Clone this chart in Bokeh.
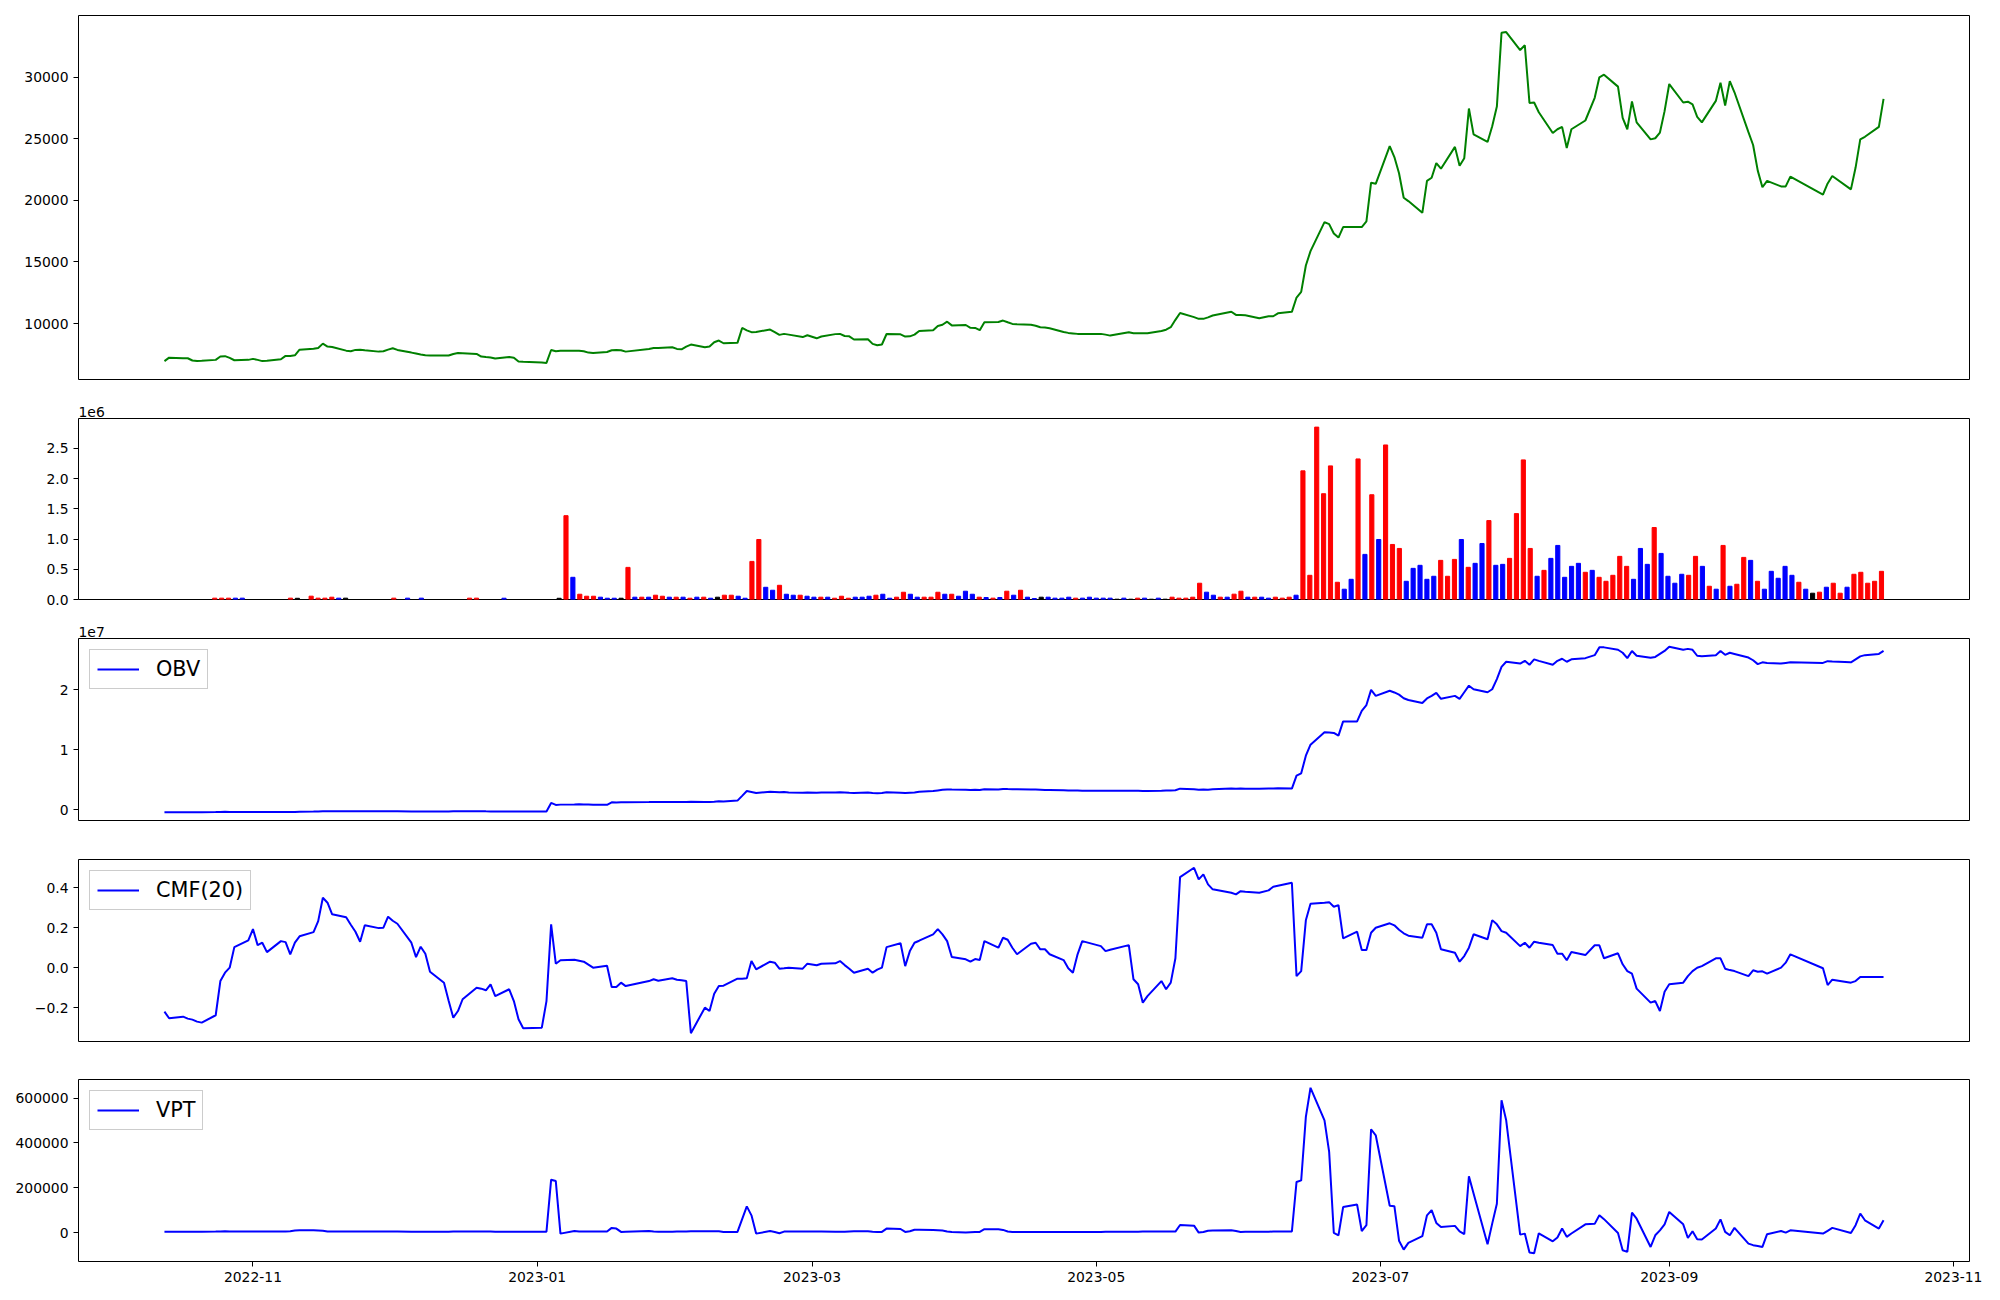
import pandas as pd
from bokeh.plotting import figure
from bokeh.layouts import column
from bokeh.models import (Range1d, FixedTicker, CustomJSTickFormatter, DatetimeTickFormatter,
                          ColumnDataSource, Title)
from bokeh.embed import file_html
from bokeh.resources import INLINE

FONT = "DejaVu Sans"
TICK_FS = "13.9px"
LEG_FS = "20.8px"

# ---------------- data ----------------
first_day, last_day = "2022-10-13", "2023-10-17"
market_holidays = ["2022-12-30", "2023-01-23", "2023-01-24", "2023-03-01", "2023-05-01",
                   "2023-05-05", "2023-05-29", "2023-06-06", "2023-08-15", "2023-09-28",
                   "2023-09-29", "2023-10-02", "2023-10-03", "2023-10-09"]
dates = [d for d in pd.bdate_range(first_day, last_day) if d.strftime("%Y-%m-%d") not in market_holidays]

close = [6950, 7230, 7180, 7180, 7000, 6950, 6970, 7050, 7320, 7350,
         7210, 7020, 7050, 7130, 7050, 6950, 6970, 7100, 7370, 7370,
         7420, 7880, 7960, 8020, 8370, 8130, 8100, 7800, 7750, 7860,
         7880, 7830, 7720, 7750, 7880, 7990, 7860, 7640, 7560, 7480,
         7420, 7400, 7400, 7400, 7530, 7610, 7590, 7530, 7320, 7280,
         7250, 7160, 7280, 7230, 6910, 6890, 6830, 6800, 7850, 7750,
         7800, 7800, 7800, 7750, 7640, 7610, 7690, 7830, 7860, 7830,
         7720, 7940, 8020, 8020, 8070, 7940, 7910, 8130, 8290, 8070,
         8130, 8480, 8620, 8400, 8430, 9640, 9450, 9300, 9320, 9510,
         9300, 9080, 9160, 9100, 8900, 9050, 8800, 8950, 9140, 9160,
         8990, 8960, 8700, 8720, 8350, 8240, 8300, 9150, 9120, 8940,
         8960, 9100, 9400, 9450, 9800, 9900, 10150, 9850, 9880, 9650,
         9640, 9460, 10110, 10130, 10240, 10100, 9970, 9950, 9900, 9820,
         9700, 9680, 9620, 9320, 9240, 9200, 9160, 9160, 9160, 9100,
         9020, 9300, 9210, 9210, 9210, 9210, 9400, 9500, 9700, 10300,
         10860, 10520, 10380, 10380, 10500, 10650, 10960, 10700, 10690, 10680,
         10430, 10590, 10590, 10830, 10950, 12110, 12570, 14710, 15880, 18230,
         18070, 17310, 16980, 17830, 17830, 17830, 18285, 21430, 21340, 24400,
         23510, 22200, 20210, 19940, 18990, 21580, 21830, 23020, 22570, 24340,
         22810, 23420, 27450, 25350, 24740, 26020, 27610, 33600, 33660, 32200,
         32590, 27910, 27940, 27150, 25470, 25770, 25960, 24250, 25770, 26480,
         28320, 29990, 30200, 29230, 26690, 25770, 28030, 26330, 24950, 25040,
         25500, 27240, 29440, 27940, 28010, 27790, 26780, 26330, 28070, 29540,
         27700, 29680, 28770, 25530, 24490, 22410, 21060, 21580, 21130, 21130,
         21930, 20460, 21370, 21980, 20890, 22660, 24950, 25160, 25960, 28230]

volume = [0, 0, 0, 0, 0, 0, 0, 22000, 22000, 22000,
          22000, 22000, 0, 0, 0, 0, 0, 0, 22000, 20000,
          0, 55000, 22000, 22000, 38000, 22000, 22000, 0, 0, 0,
          0, 0, 0, 22000, 0, 22000, 0, 22000, 0, 0,
          0, 0, 0, 0, 22000, 22000, 0, 0, 0, 21000,
          0, 0, 0, 0, 0, 0, 0, 20000, 1386000, 367000,
          87000, 54000, 54000, 38000, 21000, 21000, 21000, 531000, 38000, 38000,
          38000, 71000, 54000, 38000, 38000, 38000, 21000, 38000, 38000, 21000,
          38000, 71000, 71000, 54000, 21000, 630000, 992000, 202000, 153000, 235000,
          87000, 71000, 71000, 54000, 38000, 38000, 38000, 21000, 54000, 21000,
          38000, 38000, 54000, 71000, 87000, 21000, 38000, 120000, 87000, 38000,
          38000, 38000, 120000, 87000, 87000, 54000, 137000, 87000, 38000, 33000,
          22000, 33000, 137000, 71000, 153000, 38000, 16000, 38000, 38000, 22000,
          22000, 38000, 22000, 22000, 38000, 22000, 22000, 22000, 5000, 22000,
          5000, 22000, 22000, 5000, 22000, 5000, 38000, 22000, 22000, 38000,
          269000, 121000, 71000, 38000, 38000, 88000, 137000, 38000, 38000, 38000,
          22000, 38000, 22000, 38000, 71000, 2127000, 400000, 2850000, 1749000, 2209000,
          285000, 170000, 334000, 2324000, 746000, 1732000, 992000, 2555000, 910000, 844000,
          301000, 515000, 565000, 334000, 384000, 647000, 384000, 663000, 992000, 532000,
          598000, 926000, 1305000, 565000, 581000, 680000, 1420000, 2308000, 844000, 384000,
          482000, 680000, 894000, 367000, 548000, 598000, 450000, 482000, 367000, 301000,
          400000, 713000, 548000, 334000, 844000, 581000, 1190000, 762000, 384000, 269000,
          417000, 400000, 713000, 548000, 219000, 170000, 894000, 219000, 252000, 696000,
          647000, 301000, 170000, 466000, 351000, 548000, 400000, 285000, 170000, 104000,
          121000, 203000, 269000, 104000, 203000, 417000, 450000, 269000, 301000, 466000]

# r = up day, b = down day, k = unchanged
volume_dir = ("kkkkkkkrrr" "bbkkkkkkrk" "krrrrbkkkk" "kkkrkbkbkk" "kkkkrrkkkb"
              "kkkkkkkkrb" "rrrbbbkrbr" "brrbrbrbrb" "krrbbrrbbr" "bbrbbrbrrr"
              "bbbrbbrrbb" "rrrbrbbbrb" "rbrbrbbkbb" "bbrbbbbbkb" "krbkbkrrrr"
              "rbbrbrrbrb" "brrrbrrrrr" "rbbrbrbrrr" "bbbbbrrrbr" "bbrbbrrrrb"
              "rbbbbbrbrr" "rrrbbbrbbb" "brrbrbrbrr" "brbbbbbrbk" "rbrrbrrrrr")

obv = [-0.44e6, -0.44e6, -0.44e6, -0.44e6, -0.44e6, -0.44e6, -0.44e6, -0.42e6, -0.40e6, -0.38e6,
       -0.40e6, -0.42e6, -0.42e6, -0.42e6, -0.42e6, -0.42e6, -0.42e6, -0.42e6, -0.40e6, -0.40e6,
       -0.40e6, -0.35e6, -0.33e6, -0.31e6, -0.27e6, -0.29e6, -0.29e6, -0.29e6, -0.29e6, -0.29e6,
       -0.29e6, -0.29e6, -0.29e6, -0.27e6, -0.27e6, -0.29e6, -0.29e6, -0.31e6, -0.31e6, -0.31e6,
       -0.31e6, -0.31e6, -0.31e6, -0.31e6, -0.29e6, -0.27e6, -0.27e6, -0.27e6, -0.27e6, -0.29e6,
       -0.30e6, -0.31e6, -0.31e6, -0.32e6, -0.32e6, -0.33e6, -0.33e6, -0.33e6, 1.11e6, 0.78e6,
       0.83e6, 0.86e6, 0.89e6, 0.86e6, 0.84e6, 0.82e6, 0.80e6, 1.22e6, 1.20e6, 1.23e6,
       1.21e6, 1.25e6, 1.28e6, 1.26e6, 1.28e6, 1.26e6, 1.28e6, 1.26e6, 1.29e6, 1.28e6,
       1.28e6, 1.33e6, 1.40e6, 1.36e6, 1.50e6, 2.30e6, 3.11e6, 2.95e6, 2.78e6, 3.00e6,
       2.95e6, 2.88e6, 2.92e6, 2.86e6, 2.83e6, 2.86e6, 2.82e6, 2.84e6, 2.87e6, 2.89e6,
       2.85e6, 2.81e6, 2.78e6, 2.84e6, 2.76e6, 2.74e6, 2.78e6, 2.90e6, 2.82e6, 2.78e6,
       2.82e6, 2.86e6, 2.98e6, 3.10e6, 3.20e6, 3.30e6, 3.36e6, 3.34e6, 3.30e6, 3.27e6,
       3.31e6, 3.28e6, 3.40e6, 3.37e6, 3.45e6, 3.42e6, 3.40e6, 3.40e6, 3.37e6, 3.34e6,
       3.31e6, 3.27e6, 3.29e6, 3.24e6, 3.21e6, 3.19e6, 3.17e6, 3.15e6, 3.15e6, 3.13e6,
       3.13e6, 3.15e6, 3.13e6, 3.13e6, 3.11e6, 3.11e6, 3.15e6, 3.17e6, 3.19e6, 3.23e6,
       3.50e6, 3.39e6, 3.32e6, 3.36e6, 3.32e6, 3.41e6, 3.54e6, 3.50e6, 3.54e6, 3.50e6,
       3.48e6, 3.52e6, 3.54e6, 3.58e6, 3.51e6, 5.67e6, 6.06e6, 9.00e6, 10.84e6, 12.90e6,
       12.88e6, 12.80e6, 12.35e6, 14.73e6, 14.73e6, 16.50e6, 17.46e6, 20.00e6, 19.00e6, 19.85e6,
       19.57e6, 19.20e6, 18.60e6, 18.30e6, 17.80e6, 18.57e6, 19.00e6, 19.50e6, 18.50e6, 19.00e6,
       18.50e6, 19.60e6, 20.70e6, 20.10e6, 19.60e6, 20.10e6, 21.80e6, 23.85e6, 24.70e6, 24.40e6,
       24.85e6, 24.20e6, 25.10e6, 24.85e6, 24.20e6, 24.85e6, 25.20e6, 24.70e6, 25.10e6, 25.30e6,
       25.80e6, 27.10e6, 27.10e6, 26.70e6, 26.20e6, 25.30e6, 26.50e6, 25.70e6, 25.35e6, 25.50e6,
       26.00e6, 26.50e6, 27.20e6, 26.70e6, 26.85e6, 26.70e6, 25.70e6, 25.60e6, 25.80e6, 26.50e6,
       25.85e6, 26.20e6, 26.00e6, 25.40e6, 24.95e6, 24.30e6, 24.60e6, 24.50e6, 24.40e6, 24.50e6,
       24.60e6, 24.50e6, 24.80e6, 24.75e6, 24.60e6, 25.10e6, 25.60e6, 25.80e6, 26.00e6, 26.50e6]

cmf20 = [-0.22, -0.253, -0.245, -0.255, -0.26, -0.27, -0.275, -0.238, -0.067, -0.025,
         0.0, 0.103, 0.137, 0.193, 0.113, 0.125, 0.078, 0.133, 0.128, 0.067,
         0.125, 0.157, 0.178, 0.233, 0.35, 0.325, 0.267, 0.252, 0.215, 0.18,
         0.13, 0.212, 0.198, 0.2, 0.255, 0.235, 0.22, 0.125, 0.053, 0.105,
         0.07, -0.02, -0.075, -0.165, -0.25, -0.217, -0.158, -0.1, -0.105, -0.113,
         -0.083, -0.142, -0.108, -0.167, -0.258, -0.303, -0.3, -0.167, 0.217, 0.02,
         0.037, 0.04, 0.035, 0.03, 0.015, 0.0, 0.01, -0.097, -0.097, -0.075,
         -0.092, -0.067, -0.058, -0.065, -0.053, -0.06, -0.063, -0.067, -0.328, -0.2,
         -0.217, -0.13, -0.092, -0.09, -0.055, -0.055, -0.053, 0.033, -0.008, 0.03,
         0.025, -0.005, -0.003, 0.0, -0.005, 0.02, 0.012, 0.02, 0.022, 0.033,
         0.013, -0.005, -0.025, -0.005, -0.025, -0.01, 0.0, 0.103, 0.122, 0.008,
         0.083, 0.125, 0.135, 0.167, 0.193, 0.167, 0.133, 0.053, 0.042, 0.03,
         0.043, 0.038, 0.133, 0.1, 0.15, 0.14, 0.1, 0.067, 0.12, 0.125,
         0.092, 0.092, 0.067, 0.038, -0.003, -0.025, 0.067, 0.133, 0.108, 0.083,
         0.09, 0.113, -0.058, -0.083, -0.175, -0.142, -0.067, -0.108, -0.075, 0.047,
         0.453, 0.5, 0.442, 0.467, 0.417, 0.392, 0.375, 0.367, 0.383, 0.38,
         0.375, 0.387, 0.405, 0.41, 0.425, -0.042, -0.017, 0.237, 0.32, 0.325,
         0.328, 0.305, 0.313, 0.147, 0.18, 0.088, 0.088, 0.175, 0.2, 0.222,
         0.212, 0.19, 0.172, 0.16, 0.15, 0.217, 0.217, 0.175, 0.092, 0.075,
         0.03, 0.058, 0.1, 0.167, 0.142, 0.238, 0.217, 0.183, 0.175, 0.108,
         0.125, 0.1, 0.13, 0.125, 0.113, 0.07, 0.07, 0.037, 0.078, 0.063,
         0.112, 0.112, 0.047, 0.072, 0.017, -0.017, -0.03, -0.105, -0.175, -0.167,
         -0.217, -0.12, -0.083, -0.075, -0.042, -0.017, 0.0, 0.008, 0.047, 0.047,
         -0.005, -0.012, -0.017, -0.042, -0.013, -0.02, -0.018, -0.03, 0.0, 0.025,
         0.067, -0.003, -0.087, -0.06, -0.075, -0.067, -0.047, -0.047, -0.047, -0.047]

vpt = [4000, 4000, 4000, 4000, 4000, 4000, 4000, 4500, 5000, 5500,
       5000, 4500, 4500, 4500, 4500, 4500, 4500, 4500, 5000, 6000,
       9000, 10000, 10000, 9000, 8000, 5000, 4500, 4500, 4500, 4500,
       4500, 4500, 4500, 5000, 5000, 4500, 4500, 4000, 4000, 4000,
       4000, 4000, 4000, 4000, 4500, 5000, 5000, 5000, 4500, 4500,
       4500, 4000, 4000, 4000, 4000, 4000, 4000, 4000, 236000, 230000,
       -4500, 7000, 5000, 5000, 5000, 5000, 5000, 21000, 18000, 3000,
       4000, 7000, 5000, 4000, 4000, 5000, 5000, 4500, 6000, 6000,
       6000, 6500, 6000, 3000, 3000, 60000, 117000, 77000, -4500, 7000,
       3000, -3000, 4500, 5000, 5000, 5000, 5000, 5000, 4000, 4000,
       4000, 5000, 6000, 6000, 4000, 3000, 3000, 18000, 16000, 3000,
       6000, 13000, 13000, 12000, 11000, 9000, 5000, 3000, 1000, 2000,
       3000, 3000, 15000, 15000, 12000, 5000, 3000, 3000, 3000, 3000,
       3000, 3000, 3000, 3000, 3000, 3000, 3000, 3000, 3000, 3500,
       4000, 4000, 4000, 4000, 4500, 4500, 4500, 4500, 4500, 4500,
       34000, 31000, 0, 2500, 8000, 9000, 10000, 7000, 3000, 4000,
       4000, 4000, 4500, 4500, 5000, 226000, 233000, 516000, 646000, 501000,
       360000, -1500, -12000, 114000, 125000, 7000, 33000, 461000, 434000, 120000,
       118000, -36000, -76000, -46000, -16000, 77000, 100000, 43000, 25000, 30000,
       5000, -7000, 251000, 174000, -52000, 40000, 129000, 590000, 501000, -9000,
       -4500, -89000, -92000, -3000, -39000, -22000, 18000, -19000, -4000, 37000,
       39000, 77000, 60000, -1500, -79000, -86000, 89000, 62000, -64000, -12000,
       10000, 37000, 92000, 37000, -24000, 6000, -30000, -31000, 18000, 59000,
       3000, -12000, 21000, -49000, -56000, -60000, -64000, -7000, 7000, 0,
       10000, -4500, 8000, 21000, -1500, 33000, 85000, 55000, 18000, 55000]

month_ticks = ["2022-11-01", "2023-01-01", "2023-03-01", "2023-05-01", "2023-07-01",
               "2023-09-01", "2023-11-01"]

# ---------------- helpers ----------------
FRAME_W = 1891
LEFT = 78
DIR_COLORS = {"r": "red", "b": "blue", "k": "black"}


def padded(lo, hi, frac=0.05):
    span = hi - lo
    return lo - span * frac, hi + span * frac


span_t = dates[-1] - dates[0]
date_range = Range1d(start=(dates[0] - span_t * 0.05).to_pydatetime(),
                     end=(dates[-1] + span_t * 0.05).to_pydatetime())


def style(p, ticks, fmt_code):
    p.xgrid.visible = False
    p.ygrid.visible = False
    p.outline_line_color = "black"
    p.outline_line_width = 1
    p.outline_line_alpha = 1
    ax = p.yaxis[0]
    ax.ticker = FixedTicker(ticks=ticks)
    ax.formatter = CustomJSTickFormatter(code=fmt_code)
    ax.axis_line_color = None
    ax.major_tick_out = 5
    ax.major_tick_in = 0
    ax.minor_tick_out = 0
    ax.minor_tick_in = 0
    ax.major_tick_line_color = "black"
    ax.major_label_text_font = FONT
    ax.major_label_text_font_size = TICK_FS
    ax.major_label_text_color = "black"
    ax.major_label_standoff = 5


def make_fig(frame_h, top, bottom, x_range, y_range, x_type="datetime"):
    p = figure(frame_width=FRAME_W, frame_height=frame_h, x_axis_type=x_type,
               x_range=x_range, y_range=y_range, output_backend="svg",
               toolbar_location=None, min_border_left=LEFT, min_border_right=15,
               min_border_top=top, min_border_bottom=bottom,
               background_fill_color="white", border_fill_color="white")
    return p


def style_legend(p):
    lg = p.legend[0]
    lg.location = "top_left"
    lg.margin = 11
    lg.padding = 7
    lg.spacing = 0
    lg.glyph_width = 42
    lg.glyph_height = 20
    lg.label_standoff = 17
    lg.label_text_font = FONT
    lg.label_text_font_size = LEG_FS
    lg.label_text_color = "black"
    lg.border_line_color = "#cccccc"
    lg.border_line_width = 1
    lg.border_line_alpha = 1
    lg.background_fill_color = "white"
    lg.background_fill_alpha = 0.8


def offset_title(p, text):
    p.add_layout(Title(text=text, align="left", offset=0, standoff=3, text_font=FONT,
                       text_font_size=TICK_FS, text_font_style="normal",
                       text_color="black"), "above")


# ---------------- panel 1: price ----------------
lo, hi = padded(min(close), max(close))
p1 = make_fig(364, 15, 20, date_range, Range1d(lo, hi))
p1.line(x=dates, y=close, line_color="green", line_width=2)
style(p1, [10000, 15000, 20000, 25000, 30000], "return tick.toFixed(0);")
p1.xaxis.visible = False

# ---------------- panel 2: volume ----------------
idx = list(range(len(volume)))
bar_w = 0.6
xlo, xhi = padded(idx[0] - bar_w / 2, idx[-1] + bar_w / 2)
vol_src = ColumnDataSource(dict(i=idx, v=volume, c=[DIR_COLORS[ch] for ch in volume_dir]))
p2 = make_fig(181, 19, 20, Range1d(xlo, xhi), Range1d(0, max(volume) * 1.05), x_type="linear")
p2.vbar(x="i", top="v", width=bar_w, color="c", source=vol_src)
style(p2, [0, 500000, 1000000, 1500000, 2000000, 2500000], "return (tick/1e6).toFixed(1);")
p2.xaxis.visible = False
offset_title(p2, "1e6")

# ---------------- panel 3: OBV ----------------
lo, hi = padded(min(obv), max(obv))
p3 = make_fig(182, 19, 20, date_range, Range1d(lo, hi))
p3.line(x=dates, y=obv, line_color="blue", line_width=2, legend_label="OBV")
style(p3, [0, 10000000, 20000000], "return (tick/1e7).toFixed(0);")
p3.xaxis.visible = False
style_legend(p3)
offset_title(p3, "1e7")

# ---------------- panel 4: CMF ----------------
lo, hi = padded(min(cmf20), max(cmf20))
p4 = make_fig(182, 19, 19, date_range, Range1d(lo, hi))
p4.line(x=dates, y=cmf20, line_color="blue", line_width=2, legend_label="CMF(20)")
style(p4, [-0.2, 0.0, 0.2, 0.4], "return tick.toFixed(1).replace('-', '\\u2212');")
p4.xaxis.visible = False
style_legend(p4)

# ---------------- panel 5: VPT ----------------
lo, hi = padded(min(vpt), max(vpt))
p5 = make_fig(182, 19, 31, date_range, Range1d(lo, hi))
p5.line(x=dates, y=vpt, line_color="blue", line_width=2, legend_label="VPT")
style(p5, [0, 200000, 400000, 600000], "return tick.toFixed(0).replace('-', '\\u2212');")
style_legend(p5)
xa = p5.xaxis[0]
xa.ticker = FixedTicker(ticks=[pd.Timestamp(t).value // 10**6 for t in month_ticks])
xa.formatter = DatetimeTickFormatter(days="%Y-%m", months="%Y-%m", years="%Y-%m")
xa.axis_line_color = None
xa.major_tick_out = 5
xa.major_tick_in = 0
xa.minor_tick_out = 0
xa.minor_tick_in = 0
xa.major_tick_line_color = "black"
xa.major_label_text_font = FONT
xa.major_label_text_font_size = TICK_FS
xa.major_label_text_color = "black"
xa.major_label_standoff = 5

layout = column(p1, p2, p3, p4, p5, spacing=0)

with open("out.html", "w") as f:
    f.write(file_html(layout, INLINE))
